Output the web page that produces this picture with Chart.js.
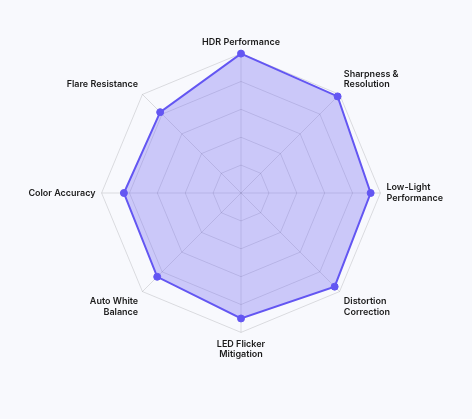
<!DOCTYPE html>
<html>
<head>
<meta charset="utf-8">
<script src="https://cdn.jsdelivr.net/npm/chart.js@4"></script>
<style>
  html, body { margin: 0; padding: 0; background: #f8f9fd; }
  #wrap { position: relative; width: 472px; height: 379px; }
</style>
</head>
<body>
<div id="wrap"><canvas id="radarChart"></canvas></div>
<script>
const categories = [
  'HDR Performance',
  ['Sharpness &', 'Resolution'],
  ['Low-Light', 'Performance'],
  ['Distortion', 'Correction'],
  ['LED Flicker', 'Mitigation'],
  ['Auto White', 'Balance'],
  'Color Accuracy',
  'Flare Resistance'
];
const scores = [100, 98, 93, 95, 90, 85, 84, 82];
const scaleMax = 100;
const scaleStep = 20;

(() => {
  const ctx = document.getElementById('radarChart').getContext('2d');
  new Chart(ctx, {
    type: 'radar',
    data: {
      labels: categories,
      datasets: [{
        label: 'Score',
        data: scores,
        borderColor: '#6356f2',
        backgroundColor: 'rgba(99, 86, 242, 0.3)',
        borderWidth: 2,
        pointBackgroundColor: '#6356f2',
        pointBorderColor: '#6356f2',
        pointBorderWidth: 1,
        pointRadius: 3.5,
        tension: 0
      }]
    },
    options: {
      responsive: true,
      maintainAspectRatio: false,
      animation: false,
      layout: { padding: { top: 32, bottom: 14, left: 10, right: 10 } },
      plugins: {
        legend: { display: false },
        tooltip: { enabled: false }
      },
      scales: {
        r: {
          min: 0,
          max: scaleMax,
          ticks: { display: false, stepSize: scaleStep },
          grid: { color: 'rgba(0, 0, 0, 0.12)', lineWidth: 1 },
          angleLines: { color: 'rgba(0, 0, 0, 0.12)', lineWidth: 1 },
          pointLabels: {
            color: '#1c1c1c',
            padding: 6,
            font: { family: 'Inter', size: 9, weight: '600', lineHeight: 1.2 }
          }
        }
      }
    }
  });
})();
</script>
</body>
</html>
